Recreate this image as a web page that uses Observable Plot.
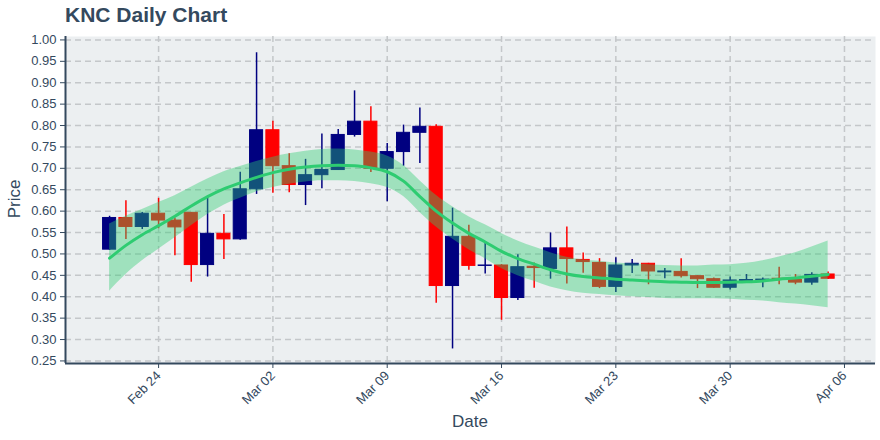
<!DOCTYPE html>
<html><head><meta charset="utf-8">
<script src="https://cdn.jsdelivr.net/npm/d3@7"></script>
<script src="https://cdn.jsdelivr.net/npm/@observablehq/plot@0.6"></script>
<style>
body{margin:0;background:#fff;}
#wrap{position:relative;width:880px;height:440px;font-family:"Liberation Sans",Arial,sans-serif;}
#title{position:absolute;left:65px;top:3px;font-size:21px;font-weight:bold;color:#34495e;white-space:nowrap;}
.axlab{position:absolute;font-size:17px;color:#34495e;white-space:nowrap;transform:translate(-50%,-50%);}
#ylab{left:15px;top:199px;transform:translate(-50%,-50%) rotate(-90deg);}
#xlab{left:470px;top:422px;}
</style></head><body>
<div id="wrap"><div id="chart"></div><div id="title">KNC Daily Chart</div><div class="axlab" id="ylab">Price</div><div class="axlab" id="xlab">Date</div></div>
<script>
const dates = ["2020-02-21","2020-02-22","2020-02-23","2020-02-24","2020-02-25","2020-02-26","2020-02-27","2020-02-28","2020-02-29",
"2020-03-01","2020-03-02","2020-03-03","2020-03-04","2020-03-05","2020-03-06","2020-03-07","2020-03-08","2020-03-09","2020-03-10",
"2020-03-11","2020-03-12","2020-03-13","2020-03-14","2020-03-15","2020-03-16","2020-03-17","2020-03-18","2020-03-19","2020-03-20",
"2020-03-21","2020-03-22","2020-03-23","2020-03-24","2020-03-25","2020-03-26","2020-03-27","2020-03-28","2020-03-29","2020-03-30",
"2020-03-31","2020-04-01","2020-04-02","2020-04-03","2020-04-04","2020-04-05"];
const open  = [0.510,0.584,0.563,0.594,0.578,0.596,0.474,0.547,0.534,0.651,0.789,0.705,0.661,0.684,0.696,0.778,0.809,0.699,0.738,0.783,0.797,0.425,0.540,0.472,0.473,0.397,0.470,0.465,0.513,0.486,0.479,0.423,0.473,0.477,0.457,0.458,0.448,0.441,0.421,0.437,0.438,0.442,0.439,0.433,0.452];
const high  = [0.588,0.624,0.597,0.630,0.584,0.597,0.634,0.592,0.691,0.970,0.810,0.734,0.721,0.780,0.791,0.881,0.844,0.758,0.801,0.841,0.802,0.607,0.567,0.528,0.475,0.498,0.479,0.549,0.563,0.502,0.489,0.491,0.487,0.478,0.466,0.489,0.449,0.444,0.446,0.452,0.444,0.469,0.452,0.456,0.458];
const low   = [0.508,0.534,0.557,0.559,0.496,0.434,0.446,0.487,0.532,0.639,0.642,0.643,0.613,0.652,0.695,0.773,0.690,0.622,0.705,0.711,0.385,0.278,0.462,0.453,0.345,0.391,0.420,0.441,0.430,0.455,0.419,0.410,0.454,0.428,0.442,0.444,0.419,0.420,0.416,0.436,0.421,0.428,0.428,0.427,0.440];
const close = [0.584,0.563,0.594,0.578,0.562,0.474,0.547,0.534,0.651,0.789,0.705,0.661,0.684,0.696,0.778,0.809,0.699,0.738,0.783,0.797,0.425,0.540,0.472,0.473,0.397,0.469,0.467,0.513,0.488,0.481,0.423,0.473,0.477,0.459,0.459,0.448,0.441,0.421,0.438,0.439,0.440,0.440,0.433,0.451,0.442];
const trend = [0.490,0.520,0.545,0.566,0.588,0.612,0.634,0.652,0.666,0.679,0.690,0.698,0.703,0.706,0.707,0.706,0.701,0.692,0.670,0.634,0.600,0.572,0.548,0.528,0.506,0.489,0.476,0.463,0.453,0.447,0.444,0.441,0.439,0.437,0.435,0.434,0.433,0.433,0.434,0.435,0.437,0.441,0.444,0.448,0.452];
const upper = [0.570,0.588,0.604,0.620,0.636,0.656,0.675,0.692,0.704,0.716,0.726,0.734,0.740,0.744,0.745,0.743,0.738,0.729,0.707,0.671,0.637,0.610,0.587,0.568,0.548,0.530,0.516,0.503,0.492,0.486,0.483,0.479,0.477,0.475,0.473,0.472,0.472,0.474,0.475,0.478,0.484,0.493,0.503,0.516,0.530];
const lower = [0.413,0.452,0.484,0.511,0.538,0.566,0.592,0.614,0.630,0.645,0.655,0.663,0.668,0.671,0.671,0.669,0.664,0.655,0.634,0.597,0.563,0.535,0.510,0.489,0.466,0.449,0.436,0.423,0.414,0.408,0.405,0.402,0.400,0.398,0.396,0.395,0.395,0.395,0.394,0.392,0.390,0.386,0.383,0.379,0.374];
const xTickLabels = ["2020-02-24","2020-03-02","2020-03-09","2020-03-16","2020-03-23","2020-03-30","2020-04-06"];
const yTicks = [0.25,0.30,0.35,0.40,0.45,0.50,0.55,0.60,0.65,0.70,0.75,0.80,0.85,0.90,0.95,1.00];

const parse = d3.utcParse("%Y-%m-%d");
const DAY = 864e5;
const rows = dates.map((d, i) => ({
  date: parse(d), open: open[i], high: high[i], low: low[i], close: close[i],
  trend: trend[i], upper: upper[i], lower: lower[i],
  up: close[i] >= open[i]
}));
const xTicks = xTickLabels.map(parse);
const xDomain = [new Date(parse("2020-02-24") - 5.7 * DAY), new Date(+parse("2020-04-06") + 1.9 * DAY)];
const yDomain = [0.244, 1.008];
const colorOf = d => d.up ? "#000080" : "#ff0000";
const half = 0.40 * DAY;
const axisColor = "#34495e";

const chart = Plot.plot({
  width: 880, height: 440,
  marginLeft: 65, marginRight: 5, marginTop: 36, marginBottom: 77,
  style: {fontFamily: "'Liberation Sans', Arial, sans-serif", fontSize: "13px", color: axisColor, background: "transparent"},
  x: {type: "utc", domain: xDomain, ticks: xTicks, tickFormat: d3.utcFormat("%b %d"), tickRotate: -45, label: null, tickSize: 5, tickPadding: 5},
  y: {domain: yDomain, ticks: yTicks, tickFormat: d3.format(".2f"), label: null, tickSize: 5},
  marks: [
    Plot.frame({fill: "#eceff1", stroke: "none"}),
    Plot.ruleY(yTicks, {stroke: "#c4c7ca", strokeWidth: 1.5, strokeDasharray: "6,4"}),
    Plot.ruleX(xTicks, {stroke: "#c4c7ca", strokeWidth: 1.5, strokeDasharray: "6,4"}),
    Plot.ruleX(rows, {x: "date", y1: "low", y2: "high", stroke: colorOf, strokeWidth: 1.5}),
    Plot.rect(rows, {
      x1: d => new Date(+d.date - half), x2: d => new Date(+d.date + half),
      y1: d => Math.min(d.open, d.close), y2: d => Math.max(d.open, d.close),
      fill: colorOf, stroke: colorOf, strokeWidth: 1
    }),
    Plot.areaY(rows, {x: "date", y1: "lower", y2: "upper", fill: "#2ecc71", fillOpacity: 0.4, curve: "monotone-x"}),
    Plot.line(rows, {x: "date", y: "trend", stroke: "#2ecc71", strokeWidth: 3, curve: "monotone-x"}),
    Plot.ruleX([xDomain[0]], {stroke: axisColor, strokeWidth: 2}),
    Plot.ruleY([yDomain[0]], {stroke: axisColor, strokeWidth: 2})
  ]
});
document.getElementById("chart").appendChild(chart);
</script></body></html>
